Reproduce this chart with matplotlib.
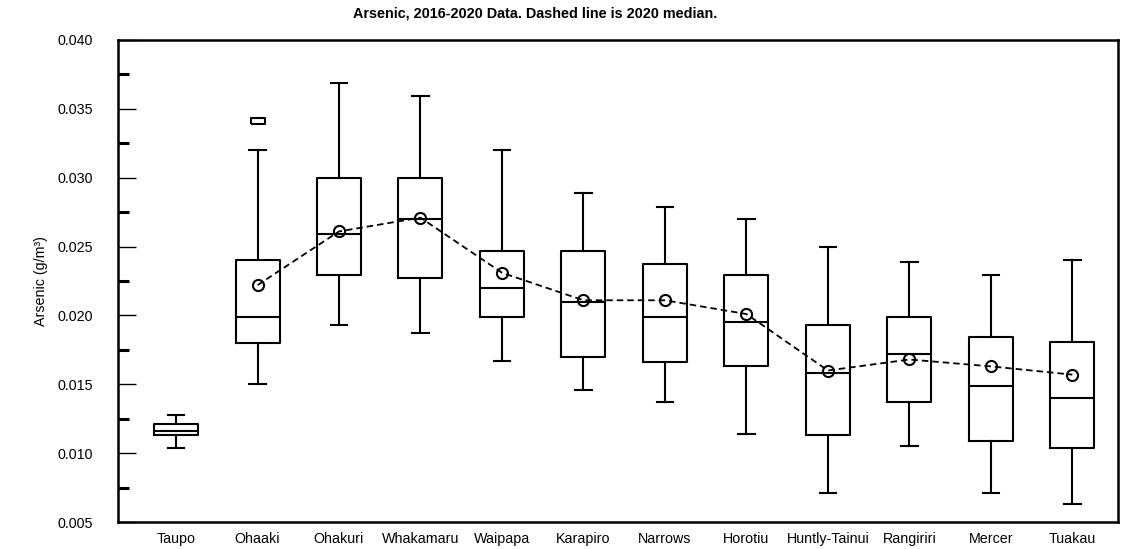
import matplotlib
matplotlib.use("Agg")
import matplotlib.pyplot as plt
from matplotlib.ticker import MultipleLocator

plt.rcParams['font.family'] = ['Liberation Sans', 'DejaVu Sans']

sites = ["Taupo", "Ohaaki", "Ohakuri", "Whakamaru", "Waipapa", "Karapiro",
         "Narrows", "Horotiu", "Huntly-Tainui", "Rangiriri", "Mercer", "Tuakau"]

# 2016-2020 summary statistics (g/m³)
whisker_low = [0.0104, 0.0150, 0.0193, 0.0187, 0.0167, 0.0146,
               0.0137, 0.0114, 0.0071, 0.0105, 0.0071, 0.0063]
quartile1 = [0.0113, 0.0180, 0.0229, 0.0227, 0.0199, 0.0170,
             0.0166, 0.0163, 0.0113, 0.0137, 0.0109, 0.0104]
median_all = [0.0116, 0.0199, 0.0259, 0.0270, 0.0220, 0.0210,
              0.0199, 0.0195, 0.0158, 0.0172, 0.0149, 0.0140]
quartile3 = [0.0121, 0.0240, 0.0300, 0.0300, 0.0247, 0.0247,
             0.0237, 0.0229, 0.0193, 0.0199, 0.0184, 0.0181]
whisker_high = [0.0128, 0.0320, 0.0369, 0.0359, 0.0320, 0.0289,
                0.0279, 0.0270, 0.0250, 0.0239, 0.0229, 0.0240]
outliers = [[], [0.0341], [], [], [], [], [], [], [], [], [], []]

# 2020 medians (no 2020 value for Taupo)
median_2020 = [None, 0.0222, 0.0261, 0.0271, 0.0231, 0.0211,
               0.0211, 0.0201, 0.0160, 0.0168, 0.0163, 0.0157]

W, H = 1135, 549
fig = plt.figure(figsize=(W / 100, H / 100), dpi=100)
ax = fig.add_axes([118 / W, 1 - 522 / H, 1000 / W, 482 / H])

stats = []
for i, name in enumerate(sites):
    stats.append(dict(label=name, whislo=whisker_low[i], q1=quartile1[i],
                      med=median_all[i], q3=quartile3[i],
                      whishi=whisker_high[i], fliers=outliers[i]))

positions = list(range(len(sites)))
lw = 1.5
rect_marker = [(-1, -0.385), (1, -0.385), (1, 0.385), (-1, 0.385), (-1, -0.385)]
ax.bxp(stats, positions=positions, widths=0.54, showfliers=True,
       boxprops=dict(color='black', linewidth=lw),
       medianprops=dict(color='black', linewidth=lw),
       whiskerprops=dict(color='black', linewidth=lw),
       capprops=dict(color='black', linewidth=lw),
       capwidths=0.2,
       flierprops=dict(marker=rect_marker, markersize=10.3,
                       markerfacecolor='white', markeredgecolor='black',
                       markeredgewidth=lw, linestyle='none'))

xs = [p for p, m in zip(positions, median_2020) if m is not None]
ys = [m for m in median_2020 if m is not None]
ax.plot(xs, ys, color='black', linewidth=1.3, linestyle=(0, (3.6, 2.2)),
        marker='o', markersize=8, markerfacecolor='none',
        markeredgecolor='black', markeredgewidth=1.5, zorder=5)

ax.set_xlim(-0.712, 11.56)
ax.set_ylim(0.005, 0.040)
ax.yaxis.set_major_locator(MultipleLocator(0.005))
ax.yaxis.set_minor_locator(MultipleLocator(0.0025))
ax.yaxis.set_major_formatter(plt.FormatStrFormatter('%.3f'))
ax.set_xticks(positions)
ax.set_xticklabels(sites)

ax.tick_params(axis='y', which='major', direction='in', length=13, width=1,
               labelsize=10.3, pad=18)
ax.tick_params(axis='y', which='minor', direction='in', length=8, width=2.2)
ax.tick_params(axis='x', which='both', length=0, labelsize=10.3, pad=7)
for side in ax.spines.values():
    side.set_linewidth(1.8)

ax.set_ylabel("Arsenic (g/m³)", fontsize=10.3)
ax.yaxis.set_label_coords((48 - 118) / 1000, 0.5)

fig.text(535 / W, 1 - 14 / H, "Arsenic, 2016-2020 Data. Dashed line is 2020 median.",
         ha='center', va='center', fontsize=10.4, fontweight='bold')

fig.savefig("out.png", dpi=100)
